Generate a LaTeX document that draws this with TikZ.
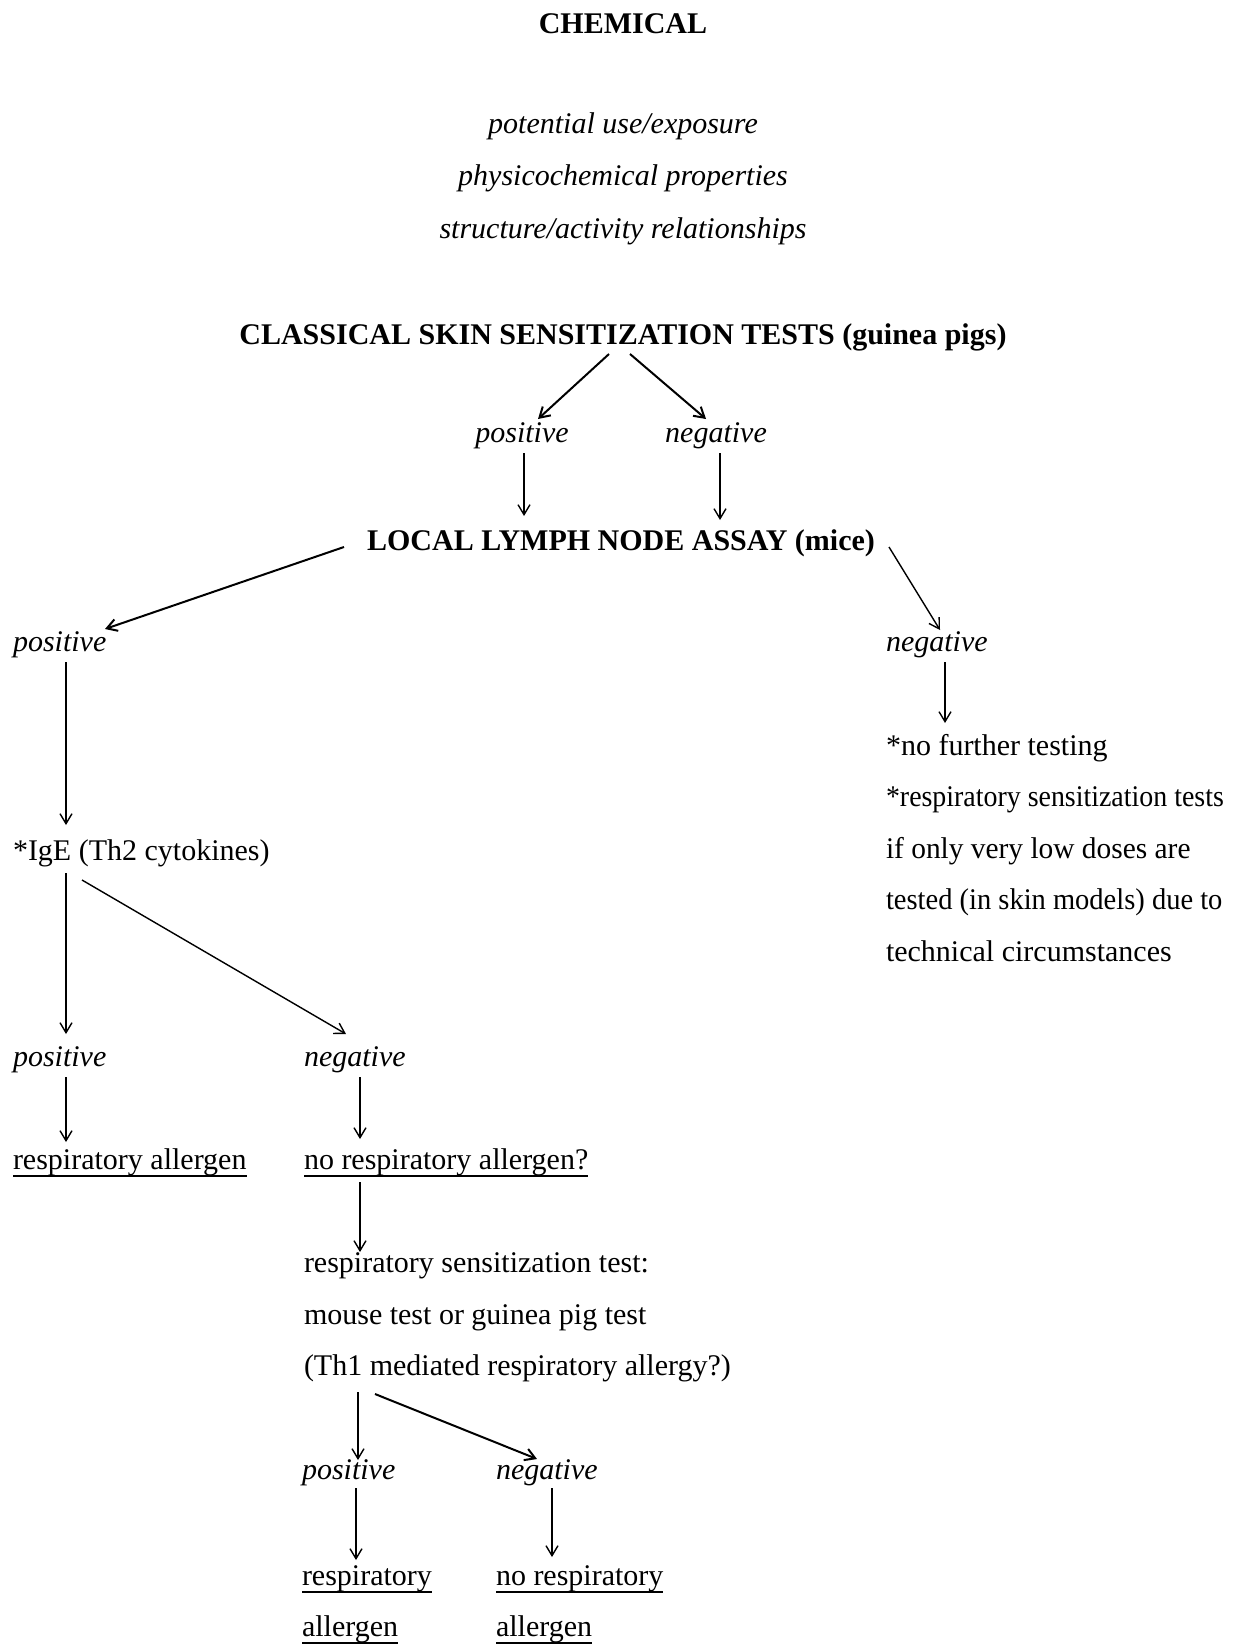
\documentclass[tikz,border=0pt]{standalone}
\usepackage{fontspec}
\setmainfont{Liberation Serif}
\usetikzlibrary{calc,arrows.meta}
\begin{document}
\begin{tikzpicture}[x=0.5pt,y=-0.5pt,
 txt/.style={inner sep=0pt, outer sep=0pt, font=\fontsize{15}{18}\selectfont},
 tl/.style={txt,anchor=base west},
 tc/.style={txt,anchor=base},
 itx/.style={font=\fontsize{15}{18}\selectfont\itshape},
 bfx/.style={font=\fontsize{15}{18}\selectfont\bfseries},
 arr/.style={line width=0.7pt,-{Straight Barb[length=5pt,width=6pt]}},
 arrb/.style={arr,line width=1pt},
 ulx/.style={line width=1.3pt}]
\fill[white] (0,0) rectangle (1239,1644);
\useasboundingbox (0,0) rectangle (1239,1644);

\node[tc,bfx] (chem) at (623,33) {CHEMICAL};
\node[tc,itx] (pu) at (623,133) {potential use/exposure};
\node[tc,itx] (pp) at (623,185) {physicochemical properties};
\node[tc,itx] (sar) at (623,238) {structure/activity relationships};

\node[tc,bfx] (cst) at (623,344) {CLASSICAL SKIN SENSITIZATION TESTS (guinea pigs)};
\node[tc,itx] (pos1) at (522,442) {positive};
\node[tc,itx] (neg1) at (716,442) {negative};
\node[tc,bfx] (llna) at (621,550) {LOCAL LYMPH NODE ASSAY (mice)};

\node[tl,itx] (pos2) at (13,651) {positive};
\node[tl,itx] (neg2) at (886,651) {negative};
\node[tl] (nft) at (886,755) {*no further testing};
\node[tl] (rsts) at (886,806) {\addfontfeature{FakeStretch=0.93}*respiratory sensitization tests};
\node[tl] (ifo) at (886,858) {\addfontfeature{FakeStretch=0.98}if only very low doses are};
\node[tl] (tis) at (886,909) {\addfontfeature{FakeStretch=0.95}tested (in skin models) due to};
\node[tl] (tc) at (886,961) {technical circumstances};

\node[tl] (ige) at (13,860) {*IgE (Th2 cytokines)};
\node[tl,itx] (pos3) at (13,1066) {positive};
\node[tl,itx] (neg3) at (304,1066) {negative};
\node[tl] (ra1) at (13,1169) {respiratory allergen};
\node[tl] (nra) at (304,1169) {no respiratory allergen?};
\node[tl] (rst) at (304,1272) {respiratory sensitization test:};
\node[tl] (mt) at (304,1324) {mouse test or guinea pig test};
\node[tl] (th1) at (304,1375) {(Th1 mediated respiratory allergy?)};
\node[tl,itx] (pos4) at (302,1479) {positive};
\node[tl,itx] (neg4) at (496,1479) {negative};
\node[tl] (ra2a) at (302,1585) {respiratory};
\node[tl] (ra2b) at (302,1636) {allergen};
\node[tl] (nra2a) at (496,1585) {no respiratory};
\node[tl] (nra2b) at (496,1636) {allergen};

\foreach \n in {ra1,nra,ra2a,ra2b,nra2a,nra2b}
  \draw[ulx] ($(\n.base west)+(0,7)$) -- ($(\n.base east)+(0,7)$);

\draw[arrb] ($(cst.base)+(-14,10)$) -- ($(pos1.base)+(16,-23)$);
\draw[arrb] ($(cst.base)+(7,10)$) -- ($(neg1.base)+(-10,-23)$);
\draw[arr] ($(pos1.base)+(2,11)$) -- ($(llna.base)+(-97,-34)$);
\draw[arr] ($(neg1.base)+(4,11)$) -- ($(llna.base)+(99,-30)$);
\draw[arrb] ($(llna.base)+(-277,-3)$) -- ($(pos2.base west)+(92,-22)$);
\draw[arr] ($(llna.base)+(268,-3)$) -- ($(neg2.base west)+(54,-21)$);
\draw[arr] ($(pos2.base west)+(53,11)$) -- ($(ige.base west)+(53,-35)$);
\draw[arr] ($(neg2.base west)+(59,11)$) -- ($(nft.base west)+(59,-32)$);
\draw[arr] ($(ige.base west)+(53,13)$) -- ($(pos3.base west)+(53,-32)$);
\draw[arr] ($(ige.base west)+(69,20)$) -- ($(neg3.base west)+(42,-32)$);
\draw[arr] ($(pos3.base west)+(53,11)$) -- ($(ra1.base west)+(53,-27)$);
\draw[arr] ($(neg3.base west)+(56,11)$) -- ($(nra.base west)+(56,-30)$);
\draw[arr] ($(nra.base west)+(56,13)$) -- ($(rst.base west)+(56,-20)$);
\draw[arr] ($(th1.base west)+(54,17)$) -- ($(pos4.base west)+(56,-19)$);
\draw[arrb] ($(th1.base west)+(71,19)$) -- ($(neg4.base west)+(41,-20)$);
\draw[arr] ($(pos4.base west)+(54,9)$) -- ($(ra2a.base west)+(54,-25)$);
\draw[arr] ($(neg4.base west)+(56,9)$) -- ($(nra2a.base west)+(56,-28)$);
\end{tikzpicture}
\end{document}
